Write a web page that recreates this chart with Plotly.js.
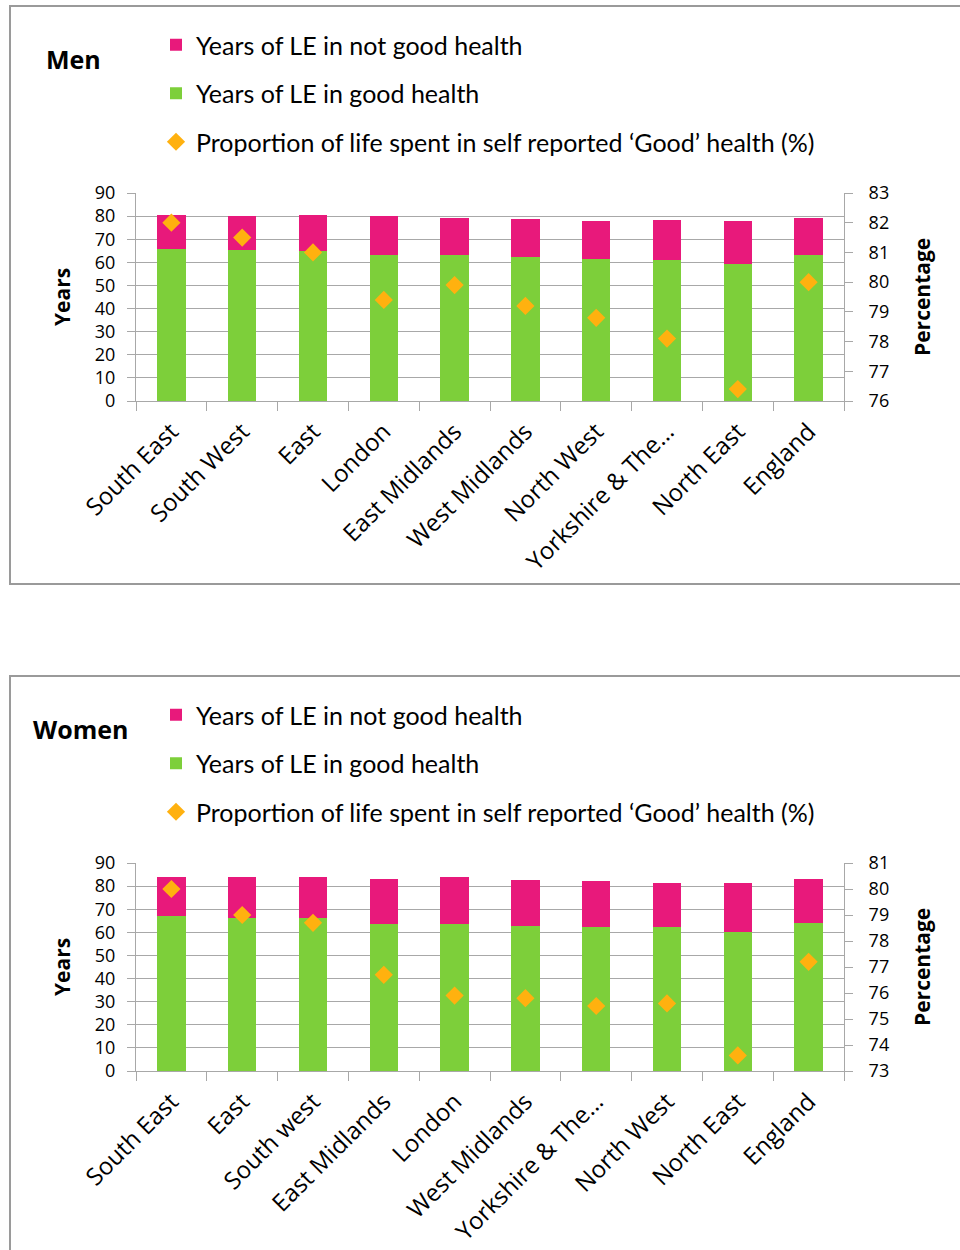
<!DOCTYPE html>
<html>
<head>
<meta charset="utf-8">
<script src="https://cdn.plot.ly/plotly-3.0.1.min.js"></script>
<style>
  html, body { margin: 0; padding: 0; background: #ffffff; }
  body { width: 960px; height: 1250px; position: relative; overflow: hidden; }
  .chart { position: absolute; left: 0; width: 960px; }
  .frame { position: absolute; left: 9px; width: 980px; border: 2px solid #9a9a9a; pointer-events: none; box-sizing: border-box; }
</style>
</head>
<body>
<div id="men" class="chart" style="top:0px;height:600px;"></div>
<div id="women" class="chart" style="top:670px;height:580px;"></div>
<div class="frame" style="top:5px;height:580px;"></div>
<div class="frame" style="top:675px;height:600px;"></div>
<script>
// ---- Data ----
const seriesNames = [
  'Years of LE in not good health',
  'Years of LE in good health',
  'Proportion of life spent in self reported \u2018Good\u2019 health (%)'
];

const menRegions = ['South East', 'South West', 'East', 'London', 'East Midlands',
  'West Midlands', 'North West', 'Yorkshire & The\u2026', 'North East', 'England'];
const menGood = [65.8, 65.4, 64.8, 63.1, 63.1, 62.1, 61.5, 60.9, 59.2, 63.1];
const menNotGood = [14.5, 14.6, 15.5, 16.9, 16.1, 16.6, 16.2, 17.4, 18.5, 16.1];
const menProportion = [82.0, 81.5, 81.0, 79.4, 79.9, 79.2, 78.8, 78.1, 76.4, 80.0];

const womenRegions = ['South East', 'East', 'South west', 'East Midlands', 'London',
  'West Midlands', 'Yorkshire & The\u2026', 'North West', 'North East', 'England'];
const womenGood = [67.1, 66.0, 66.0, 63.8, 63.8, 62.7, 62.1, 62.1, 60.3, 64.2];
const womenNotGood = [16.7, 17.8, 17.8, 19.4, 20.0, 19.9, 19.9, 19.4, 21.2, 18.9];
const womenProportion = [80.0, 79.0, 78.7, 76.7, 75.9, 75.8, 75.5, 75.6, 73.6, 77.2];

const menPctRange = [76, 83];
const womenPctRange = [73, 81];

const leftAxisTitle = 'Years';
const rightAxisTitle = 'Percentage';

// ---- Styles ----
const PINK = '#E8197B';
const GREEN = '#7DCF3A';
const GOLD = '#FFB10F';
const GRID = '#a8a8a8';
const YTICKFONT = { family: 'Open Sans, Lato, sans-serif', size: 18, color: '#000' };
const XTICKFONT = { family: 'Open Sans, Lato, sans-serif', size: 24, color: '#000' };
const LEGFONT = { family: 'Lato, Open Sans, sans-serif', size: 25, color: '#000' };
const AXTITLEFONT = { family: 'Open Sans, Lato, sans-serif', size: 21, color: '#000' };

const PLOT_L = 136, PLOT_R = 844, PLOT_T = 193, PLOT_B = 401;

function makeChart(divId, title, cats, good, notGood, prop, pctRange, height) {
  const traces = [
    { type: 'bar', name: seriesNames[1], x: cats, y: good, marker: { color: GREEN, line: { width: 0 } },
      legendgroup: 'g', legendrank: 2, hoverinfo: 'y' },
    { type: 'bar', name: seriesNames[0], x: cats, y: notGood, marker: { color: PINK, line: { width: 0 } },
      legendgroup: 'n', legendrank: 1, hoverinfo: 'y' },
    { type: 'scatter', mode: 'markers', name: seriesNames[2], x: cats, y: prop, yaxis: 'y2',
      marker: { symbol: 'diamond', size: 14, color: GOLD }, legendgroup: 'p', legendrank: 3, hoverinfo: 'y' }
  ];
  const pctTicks = [];
  for (let v = pctRange[0]; v <= pctRange[1]; v++) pctTicks.push(v);
  const pw = PLOT_R - PLOT_L;
  const layout = {
    width: 960, height: height,
    paper_bgcolor: 'rgba(0,0,0,0)', plot_bgcolor: '#fff',
    margin: { l: PLOT_L, r: 960 - PLOT_R, t: PLOT_T, b: height - PLOT_B, autoexpand: false },
    barmode: 'stack', bargap: 0.6,
    showlegend: true,
    legend: {
      x: 156 / 960, xref: 'container', xanchor: 'left',
      y: 1 - 22 / height, yref: 'container', yanchor: 'top',
      orientation: 'v', traceorder: 'grouped', tracegroupgap: 13,
      font: LEGFONT, bgcolor: 'rgba(0,0,0,0)', itemwidth: 30
    },
    title: {
      text: '<b>' + title + '</b>', xref: 'container', yref: 'container',
      x: title === 'Men' ? 46 / 960 : 33 / 960, xanchor: 'left',
      y: 1 - 60 / height, yanchor: 'middle',
      font: { family: 'Open Sans, Lato, sans-serif', size: 25, color: '#000' }
    },
    annotations: [
      { text: '<b>' + leftAxisTitle + '</b>', xref: 'paper', yref: 'paper',
        x: (62 - PLOT_L) / pw, y: 0.5, xanchor: 'center', yanchor: 'middle',
        textangle: -90, showarrow: false, font: AXTITLEFONT },
      { text: '<b>' + rightAxisTitle + '</b>', xref: 'paper', yref: 'paper',
        x: (922 - PLOT_L) / pw, y: 0.5, xanchor: 'center', yanchor: 'middle',
        textangle: -90, showarrow: false, font: AXTITLEFONT }
    ],
    xaxis: {
      type: 'category', range: [-0.5, cats.length - 0.5], tickangle: -45, tickfont: XTICKFONT,
      showline: true, linecolor: GRID, linewidth: 1,
      ticks: 'outside', ticklen: 9, tickcolor: GRID, tickson: 'boundaries', ticklabelstandoff: 6,
      showgrid: false, automargin: false, fixedrange: true
    },
    yaxis: {
      range: [0, 90], dtick: 10, tick0: 0, tickfont: YTICKFONT,
      showline: true, linecolor: GRID, linewidth: 1,
      ticks: 'outside', ticklen: 8, tickcolor: GRID, ticklabelstandoff: 8,
      showgrid: true, gridcolor: GRID, gridwidth: 1, zeroline: false,
      automargin: false, fixedrange: true
    },
    yaxis2: {
      overlaying: 'y', side: 'right', range: pctRange, tickvals: pctTicks, tickfont: YTICKFONT,
      showline: true, linecolor: GRID, linewidth: 1,
      ticks: 'outside', ticklen: 8, tickcolor: GRID, ticklabelstandoff: 12,
      showgrid: false, zeroline: false,
      automargin: false, fixedrange: true
    }
  };
  Plotly.newPlot(divId, traces, layout, { displayModeBar: false, staticPlot: true });
}

makeChart('men', 'Men', menRegions, menGood, menNotGood, menProportion, menPctRange, 600);
makeChart('women', 'Women', womenRegions, womenGood, womenNotGood, womenProportion, womenPctRange, 580);
</script>
</body>
</html>
